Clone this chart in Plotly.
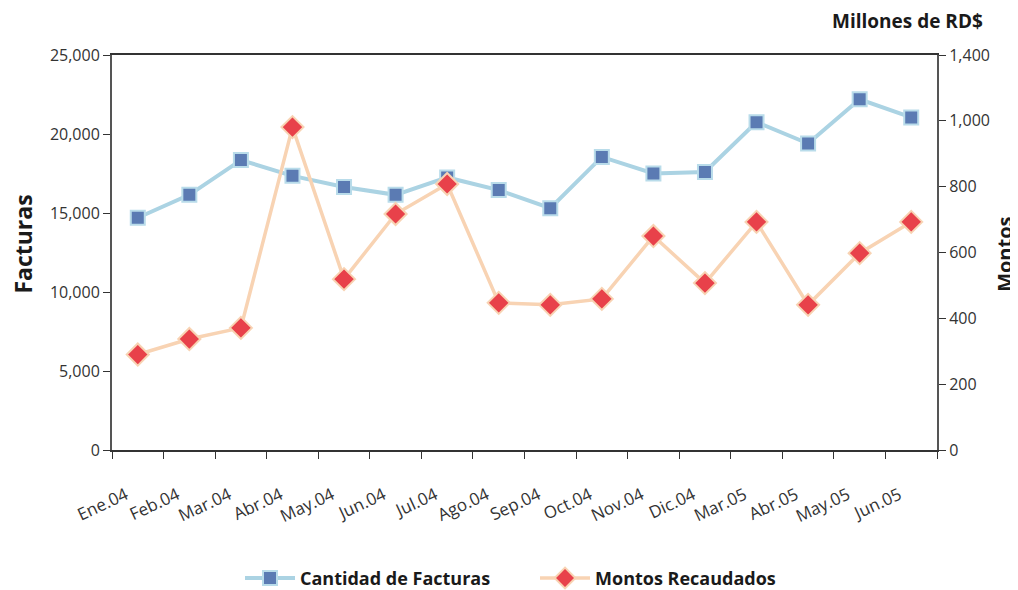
import plotly.graph_objects as go

meses = ["Ene.04", "Feb.04", "Mar.04", "Abr.04", "May.04", "Jun.04", "Jul.04", "Ago.04",
         "Sep.04", "Oct.04", "Nov.04", "Dic.04", "Mar.05", "Abr.05", "May.05", "Jun.05"]
facturas = [14700, 16150, 18350, 17350, 16650, 16150, 17250, 16450,
            15300, 18550, 17500, 17600, 20750, 19400, 22200, 21050]
montos = [290, 337, 371, 981, 519, 717, 808, 447,
          441, 459, 650, 507, 693, 441, 598, 693]

left_ticks = [0, 5000, 10000, 15000, 20000, 25000]
left_text = ["0", "5,000", "10,000", "15,000", "20,000", "25,000"]
right_ticks = [0, 200, 400, 600, 800, 1000, 1200]
right_text = ["0", "200", "400", "600", "800", "1,000", "1,400"]

FONT = "Open Sans"
AX = "#333333"

fig = go.Figure()
fig.add_trace(go.Scatter(
    x=meses, y=facturas, name="Cantidad de Facturas", mode="lines+markers",
    line=dict(color="#abd3e3", width=4),
    marker=dict(symbol="square", size=14, color="#5b7bb3",
                line=dict(color="#b9dcea", width=2)),
    yaxis="y", legend="legend"))
fig.add_trace(go.Scatter(
    x=meses, y=montos, name="Montos Recaudados", mode="lines+markers",
    line=dict(color="#f8d3b3", width=3.5),
    marker=dict(symbol="diamond", size=17, color="#e8414a",
                line=dict(color="#f8d3b3", width=2)),
    yaxis="y2", legend="legend2"))

legend_font = dict(family=FONT, size=18, color="#1a1a1a", weight="bold")

fig.update_layout(
    width=1010, height=582,
    margin=dict(l=104, r=81, t=47, b=140, autoexpand=False),
    paper_bgcolor="white", plot_bgcolor="white",
    font=dict(family=FONT, color="#333333", size=14),
    showlegend=True,
    legend=dict(orientation="h", x=0.2297, xanchor="left", xref="container",
                y=0.02, yanchor="middle", yref="container",
                font=legend_font, itemwidth=50),
    legend2=dict(orientation="h", x=0.5218, xanchor="left", xref="container",
                 y=0.02, yanchor="middle", yref="container",
                 font=legend_font, itemwidth=50),
    xaxis=dict(type="category", range=[-0.5, 15.5], tickson="boundaries",
               ticks="outside", ticklen=7, tickcolor=AX, tickwidth=1,
               showline=True, linecolor=AX, linewidth=1.5, mirror=True,
               showgrid=False, tickangle=-25, automargin=False,
               ticklabelstandoff=27, ticklabelshift=-12,
               tickfont=dict(family=FONT, size=17, color="#333333")),
    yaxis=dict(range=[0, 25000], tickvals=left_ticks, ticktext=left_text,
               ticks="outside", ticklen=7, tickcolor=AX,
               showline=True, linecolor="#555555", linewidth=2,
               showgrid=False, zeroline=False, automargin=False,
               tickfont=dict(family=FONT, size=16)),
    yaxis2=dict(range=[0, 1200], tickvals=right_ticks, ticktext=right_text,
                overlaying="y", side="right",
                ticks="outside", ticklen=7, tickcolor=AX,
                showline=True, linecolor="#555555", linewidth=2,
                showgrid=False, zeroline=False, automargin=False,
                tickfont=dict(family=FONT, size=16)),
    annotations=[
        dict(text="<b>Millones de RD$</b>", xref="paper", yref="paper",
             x=1, xshift=48, y=1, yshift=34, xanchor="right", yanchor="middle",
             showarrow=False, font=dict(family=FONT, size=19, color="#1a1a1a")),
        dict(text="<b>Facturas</b>", xref="paper", yref="paper", textangle=-90,
             x=0, xshift=-89, y=0.52, xanchor="center", yanchor="middle",
             showarrow=False, font=dict(family=FONT, size=23, color="#1a1a1a")),
        dict(text="<b>Montos</b>", xref="paper", yref="paper", textangle=-90,
             x=1, xshift=68, y=0.494, xanchor="center", yanchor="middle",
             showarrow=False, font=dict(family=FONT, size=20, color="#1a1a1a")),
    ],
)

fig.write_html("out.html")
